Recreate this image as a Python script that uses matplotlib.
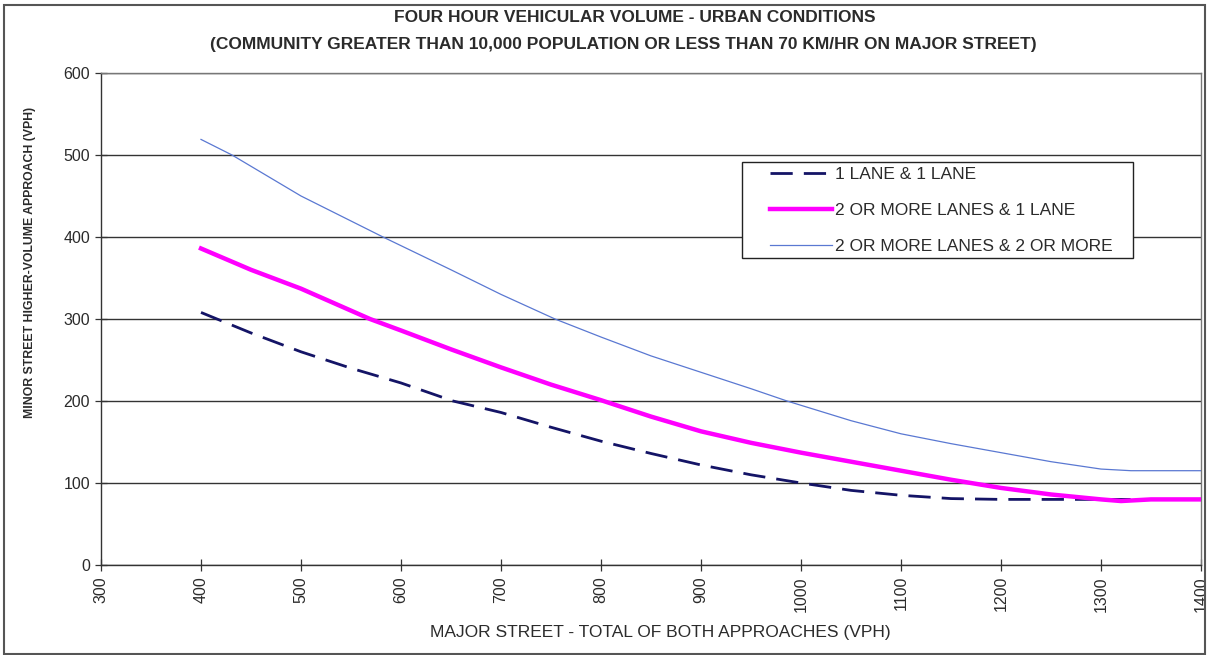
#!/usr/bin/env python3
"""Four hour vehicular volume warrant curves (urban conditions)."""

import matplotlib
matplotlib.use("Agg")
import matplotlib.pyplot as plt
from matplotlib.patches import Rectangle

plt.rcParams["font.family"] = ["Liberation Sans Narrow", "Liberation Sans", "DejaVu Sans"]

# major street volume (x) and minor street volume (y)
ONE_ONE_X = [400, 450, 500, 550, 600, 652, 700, 750, 800, 850, 900, 950, 1000,
             1050, 1100, 1150, 1200, 1250, 1300, 1400]
ONE_ONE_Y = [308, 283, 260, 240, 222, 200, 186, 168, 151, 136, 122, 110, 100,
             91, 85, 81, 80, 80, 80, 80]

TWO_ONE_X = [400, 450, 500, 569, 600, 650, 700, 750, 800, 850, 900, 950, 1000,
             1050, 1100, 1150, 1200, 1250, 1300, 1320, 1350, 1400]
TWO_ONE_Y = [386, 360, 337, 300, 286, 263, 241, 220, 201, 181, 163, 149, 137,
             126, 115, 104, 94, 86, 80, 78, 80, 80]

TWO_TWO_X = [400, 431, 500, 582, 650, 700, 754, 800, 850, 900, 950, 986, 1050,
             1100, 1150, 1200, 1250, 1300, 1330, 1400]
TWO_TWO_Y = [519, 500, 450, 400, 360, 330, 300, 278, 255, 235, 215, 200, 176,
             160, 148, 137, 126, 117, 115, 115]

SERIES_LABELS = ["1 LANE & 1 LANE", "2 OR MORE LANES & 1 LANE",
                 "2 OR MORE LANES & 2 OR MORE"]
X_TICKS = list(range(300, 1401, 100))
Y_TICKS = list(range(0, 601, 100))

TEXT_COLOR = "#2b2b2b"


def main() -> None:
    fig = plt.figure(figsize=(12.1, 6.55), dpi=100)
    ax = fig.add_axes([101 / 1210, 1 - 565 / 655, 1100 / 1210, 492 / 655])

    ax.plot(ONE_ONE_X, ONE_ONE_Y, color="#141466", linewidth=2.0,
            dashes=(8, 4), label=SERIES_LABELS[0], zorder=3)
    ax.plot(TWO_ONE_X, TWO_ONE_Y, color="#ff00ff", linewidth=3.2,
            label=SERIES_LABELS[1], zorder=4)
    ax.plot(TWO_TWO_X, TWO_TWO_Y, color="#5a78d2", linewidth=0.9,
            label=SERIES_LABELS[2], zorder=3)

    ax.set_xlim(300, 1400)
    ax.set_ylim(0, 600)
    ax.set_xticks(X_TICKS)
    ax.set_yticks(Y_TICKS)
    ax.set_xticklabels([str(v) for v in X_TICKS], rotation=90, fontsize=11.5,
                       color=TEXT_COLOR)
    ax.set_yticklabels([str(v) for v in Y_TICKS], fontsize=11.5, color=TEXT_COLOR)
    ax.tick_params(axis="both", direction="inout", length=8, width=0.9,
                   color="#333333", pad=4)
    ax.grid(axis="y", color="#333333", linewidth=1.0)
    ax.set_axisbelow(True)
    for name, spine in ax.spines.items():
        spine.set_color("#333333" if name in ("left", "bottom") else "#777777")
        spine.set_linewidth(1.0)

    fig.text(660 / 1210, 1 - 633 / 655,
             "MAJOR STREET - TOTAL OF BOTH APPROACHES (VPH)",
             ha="center", va="center", fontsize=12.5, color=TEXT_COLOR)
    fig.text(30 / 1210, 1 - 262 / 655,
             "MINOR STREET HIGHER-VOLUME APPROACH (VPH)",
             ha="center", va="center", rotation=90, fontsize=8.8,
             fontweight="bold", color=TEXT_COLOR)

    fig.text(635 / 1210, 1 - 17 / 655, "FOUR HOUR VEHICULAR VOLUME - URBAN CONDITIONS",
             ha="center", va="center", fontsize=12.5, fontweight="bold",
             color=TEXT_COLOR)
    fig.text(623 / 1210, 1 - 44 / 655,
             "(COMMUNITY GREATER THAN 10,000 POPULATION OR LESS THAN 70 KM/HR ON MAJOR STREET)",
             ha="center", va="center", fontsize=12.5, fontweight="bold",
             color=TEXT_COLOR)

    # legend box drawn separately so its padding can match the original
    ax.add_patch(Rectangle((0.5827, 0.624), 0.3555, 0.195,
                           transform=ax.transAxes, facecolor="white",
                           edgecolor="#222222", linewidth=1.0, zorder=5))
    leg = ax.legend(loc="upper left", bbox_to_anchor=(0.608, 0.809),
                    fontsize=12.5, frameon=False, handlelength=3.6,
                    handletextpad=0.15, labelspacing=1.2, borderpad=0,
                    borderaxespad=0)
    leg.set_zorder(6)
    for text in leg.get_texts():
        text.set_color(TEXT_COLOR)

    # outer frame around the whole chart
    fig.patches.append(Rectangle((4 / 1210, 0.002), 1 - 9 / 1210, 1 - 6 / 655,
                                 transform=fig.transFigure, fill=False,
                                 edgecolor="#555555", linewidth=1.5))

    fig.savefig("out.png", dpi=100, facecolor="white")
    plt.close(fig)


if __name__ == "__main__":
    main()
